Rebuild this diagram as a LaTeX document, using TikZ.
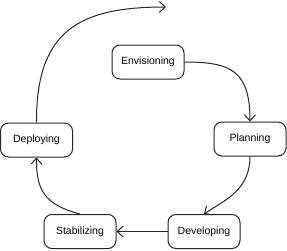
\documentclass[tikz,border=0pt]{standalone}
\usepackage{fontspec}
\setmainfont{Liberation Sans}
\usetikzlibrary{arrows.meta,positioning}
\tikzset{
  phase/.style={draw=black!85, line width=1pt, rounded corners=8pt, minimum width=72pt, minimum height=34pt, align=center, font=\fontsize{10.5}{12}\selectfont, fill=none},
  flow/.style={-{Straight Barb[length=6pt, width=11pt, line width=1pt]}, line width=1pt, draw=black!85}
}

\begin{document}
\begin{tikzpicture}[x=1pt, y=-1pt]
  \useasboundingbox (0,0) rectangle (287,250);
  \node[phase] (env) at (148,62) {Envisioning};
  \node[phase] (plan) at (250,139) {Planning};
  \node[phase] (dev) at (204,231.5) {Developing};
  \node[phase] (stab) at (80,231.5) {Stabilizing};
  \node[phase] (dep) at (36.5,140) {Deploying};
  \coordinate (top) at (166,7);

  \draw[flow] (env.east) .. controls (230,62) and (250,70) .. (plan.north);
  \draw[flow] (plan.south) .. controls (250,190) and (225,200) .. (dev.north);
  \draw[flow] (dev.west) -- (stab.east);
  \draw[flow] (stab.north) .. controls (45,205) and (36,190) .. (dep.south);
  \draw[flow] (dep.north) .. controls (36,30) and (80,7) .. (top);
\end{tikzpicture}
\end{document}
